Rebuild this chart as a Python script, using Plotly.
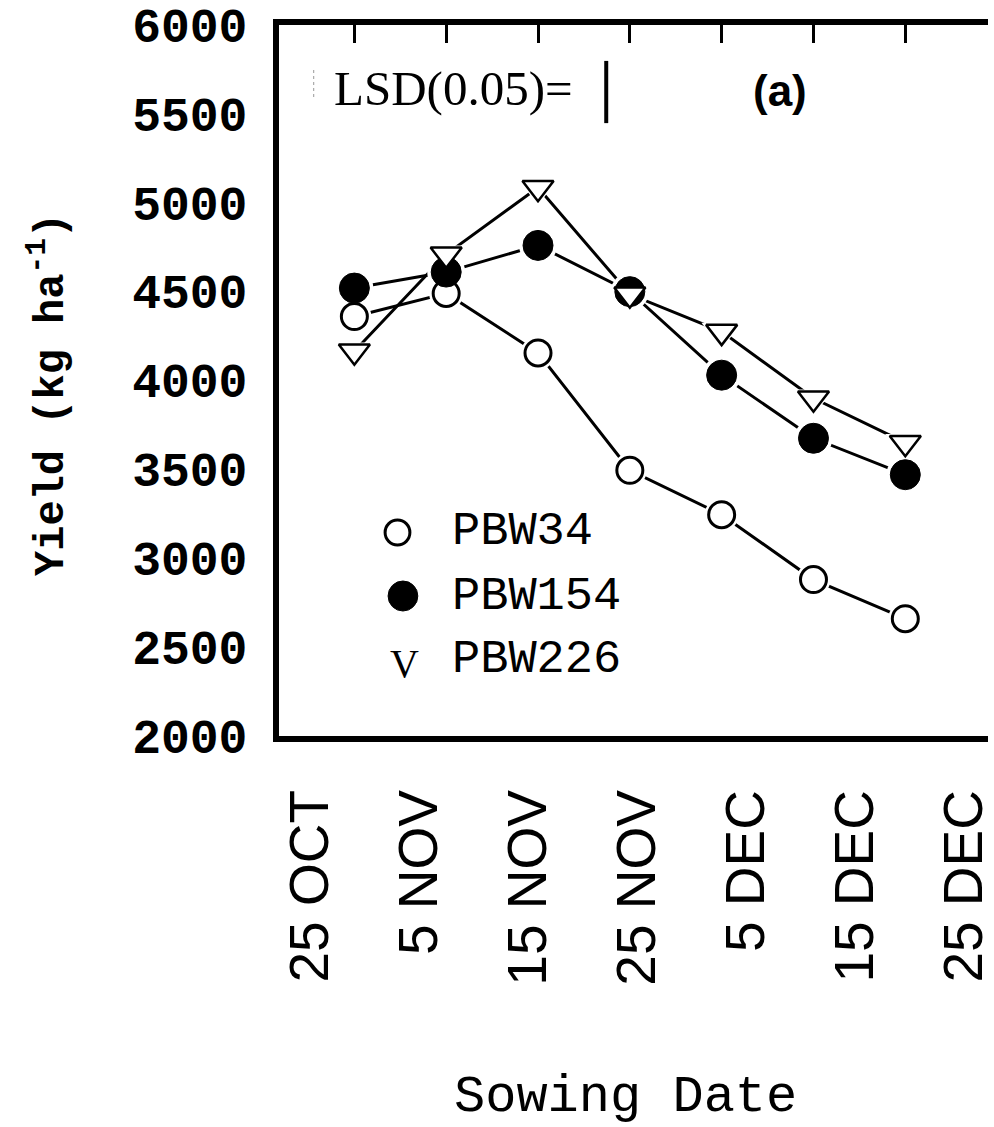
import plotly.graph_objects as go

# Grain yield (kg/ha) of three wheat cultivars at seven sowing dates
SOWING_INDEX = [0, 1, 2, 3, 4, 5, 6]
PBW34 = [4360, 4490, 4155, 3495, 3245, 2880, 2660]
PBW154 = [4520, 4610, 4760, 4500, 4030, 3675, 3470]
PBW226 = [4165, 4710, 5085, 4485, 4275, 3900, 3650]

DATE_LABELS = ["25 OCT", "5 NOV", "15 NOV", "25 NOV", "5 DEC", "15 DEC", "25 DEC"]
Y_TICKS = [2000, 2500, 3000, 3500, 4000, 4500, 5000, 5500, 6000]
LSD_005 = 350

SANS = "Liberation Sans, Arial, Helvetica, sans-serif"
MONO = "Liberation Mono, Courier New, monospace"
SERIF = "Liberation Serif, Times New Roman, serif"

# page geometry (pixels)
W, H = 994, 1127
L, R, T, B = 279, 0, 25, 391
PW, PH = W - L - R, H - T - B

# date-label axis: first label at 310 px, last at 970 px
LBL0, LBL_STEP = 310, 110.0


def px_x(px):
    return (px - L) / PW


def px_y(py):
    return (H - B - py) / PH


fig = go.Figure()

series = [
    (PBW34, "circle", "white", 26, 3),
    (PBW154, "circle", "black", 30, 1),
    (PBW226, "triangle-down", "white", 27, 2.5),
]

# connecting lines
for ys, _, _, _, _ in series:
    fig.add_trace(go.Scatter(x=SOWING_INDEX, y=ys, mode="lines",
                             line=dict(color="black", width=3),
                             showlegend=False, hoverinfo="skip"))
# white halos so lines stop short of the symbols
for ys, sym, _, size, _ in series:
    fig.add_trace(go.Scatter(x=SOWING_INDEX, y=ys, mode="markers",
                             marker=dict(symbol=sym, size=size + 8, color="white",
                                         line=dict(width=0)),
                             showlegend=False, hoverinfo="skip"))
# symbols
for ys, sym, fill, size, lw in series:
    fig.add_trace(go.Scatter(x=SOWING_INDEX, y=ys, mode="markers",
                             marker=dict(symbol=sym, size=size, color=fill,
                                         line=dict(color="black", width=lw)),
                             showlegend=False))

# LSD bar (placed on the date axis so that axis is drawn)
lsd_x = (609 - LBL0) / LBL_STEP
lsd_mid = 5623
fig.add_trace(go.Scatter(x=[lsd_x, lsd_x], y=[lsd_mid - LSD_005 / 2, lsd_mid + LSD_005 / 2],
                         xaxis="x2", yaxis="y",
                         mode="lines", line=dict(color="black", width=4),
                         showlegend=False, hoverinfo="skip"))

annotations = [
    dict(text="Yield (kg ha<sup>-1</sup>)", x=px_x(46), y=px_y(394), textangle=-90,
         font=dict(family=MONO, size=42, color="black", weight="bold")),
    dict(text="Sowing Date", x=px_x(628), y=px_y(1097),
         font=dict(family=MONO, size=52, color="black")),
    dict(text="LSD(0.05)=", x=px_x(455), y=px_y(88),
         font=dict(family=SERIF, size=49, color="black")),
    dict(text="(a)", x=px_x(784), y=px_y(91),
         font=dict(family=SANS, size=44, color="black", weight="bold")),
    dict(text="PBW34", x=px_x(525), y=px_y(531),
         font=dict(family=MONO, size=47, color="black")),
    dict(text="PBW154", x=px_x(539), y=px_y(596),
         font=dict(family=MONO, size=47, color="black")),
    dict(text="PBW226", x=px_x(539), y=px_y(659),
         font=dict(family=MONO, size=47, color="black")),
    dict(text="V", x=px_x(406), y=px_y(663),
         font=dict(family=SERIF, size=40, color="black")),
]
for a in annotations:
    a.update(xref="paper", yref="paper", showarrow=False,
             xanchor="center", yanchor="middle")

shapes = [
    # legend symbols
    dict(type="circle", xref="paper", yref="paper",
         x0=px_x(386), x1=px_x(411), y0=px_y(545), y1=px_y(520),
         line=dict(color="black", width=3), fillcolor="white"),
    dict(type="circle", xref="paper", yref="paper",
         x0=px_x(389), x1=px_x(419), y0=px_y(611), y1=px_y(581),
         line=dict(color="black", width=1), fillcolor="black"),
    # faint mark before the LSD label
    dict(type="line", xref="paper", yref="paper",
         x0=px_x(314), x1=px_x(314), y0=px_y(70), y1=px_y(97),
         line=dict(color="#999999", width=1, dash="dot")),
]

fig.update_layout(
    width=W, height=H,
    margin=dict(l=L, r=R, t=T, b=B, pad=0),
    paper_bgcolor="white", plot_bgcolor="white",
    showlegend=False,
    annotations=annotations,
    shapes=shapes,
    xaxis=dict(
        side="top", range=[(279 - 355) / 92.6, (994 - 355) / 92.6],
        tickvals=SOWING_INDEX, ticks="inside", ticklen=18, tickwidth=3,
        tickcolor="black", showticklabels=False,
        showline=True, linewidth=6, linecolor="black",
        showgrid=False, zeroline=False,
    ),
    xaxis2=dict(
        overlaying="x", side="bottom", anchor="y",
        range=[(279 - LBL0) / LBL_STEP, (994 - LBL0) / LBL_STEP],
        tickvals=list(range(len(DATE_LABELS))), ticktext=DATE_LABELS,
        tickangle=-90, ticks="", ticklabelstandoff=26,
        ticklabeloverflow="allow",
        tickfont=dict(family=SANS, size=55, color="black"),
        showline=True, linewidth=6, linecolor="black",
        showgrid=False, zeroline=False,
    ),
    yaxis=dict(
        range=[2000, 6000], tickvals=Y_TICKS, ticks="",
        ticklabelstandoff=16,
        tickfont=dict(family=MONO, size=48, color="black", weight="bold"),
        showline=True, linewidth=6, linecolor="black",
        showgrid=False, zeroline=False,
    ),
)

fig.write_html("out.html")
